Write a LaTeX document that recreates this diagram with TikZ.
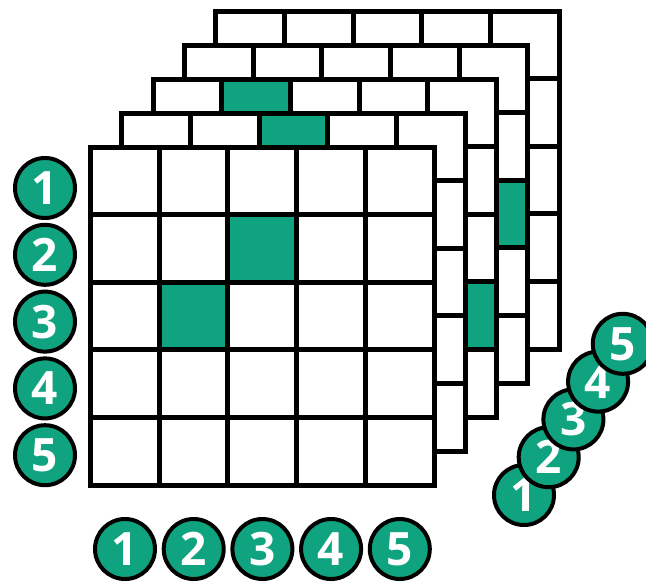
\documentclass[tikz,border=0pt]{standalone}
\usepackage{fontspec}
\setmainfont{Open Sans}
\usepackage{tikz}
\usetikzlibrary{positioning}
\definecolor{hyperteal}{HTML}{10A37F}
\tikzset{
  idxcircle/.style={circle,draw=black,line width=4pt,fill=hyperteal,text=white,
    minimum size=60pt,inner sep=0pt,font=\fontsize{46}{46}\selectfont\bfseries},
  gridline/.style={draw=black,line width=5pt,line cap=rect},
  hitcell/.style={fill=hyperteal}
}

\begin{document}
\begin{tikzpicture}[x=1pt,y=-1pt,node distance=4.7pt]
\useasboundingbox (0,0) rectangle (646,582);
% slices of the tensor, back to front
\foreach \k in {5,4,3,2,1}{
  \begin{scope}[shift={({90.5+31.3*(\k-1)},{147-34*(\k-1)})}]
    \fill[white] (0,0) rectangle (343.5,338);
    \foreach \kk/\r/\c in {1/2/3,1/3/2,2/1/3,2/3/1,3/1/2,3/2/1,3/4/5,3/5/4,
                           4/3/5,4/5/3,5/3/4,5/4/3}{
      \ifnum\kk=\k
        \fill[hitcell] ({68.7*(\c-1)},{67.6*(\r-1)}) rectangle ({68.7*\c},{67.6*\r});
      \fi
    }
    \foreach \i in {0,...,5}{
      \draw[gridline] ({68.7*\i},0) -- ({68.7*\i},338);
      \draw[gridline] (0,{67.6*\i}) -- (343.5,{67.6*\i});
    }
  \end{scope}
}
% row indices
\foreach \i in {1,...,5}
  \node[idxcircle] (row\i) at (45,{188+66.8*(\i-1)}) {\i};
% column indices
\node[idxcircle] (col1) at (125,549) {1};
\node[idxcircle,right=of col1] (col2) {2};
\node[idxcircle,right=of col2] (col3) {3};
\node[idxcircle,right=of col3] (col4) {4};
\node[idxcircle,right=of col4] (col5) {5};
% depth indices
\foreach \i in {1,...,5}
  \node[idxcircle] (dep\i) at ({524+24.7*(\i-1)},{495-37.8*(\i-1)}) {\i};
\end{tikzpicture}
\end{document}
